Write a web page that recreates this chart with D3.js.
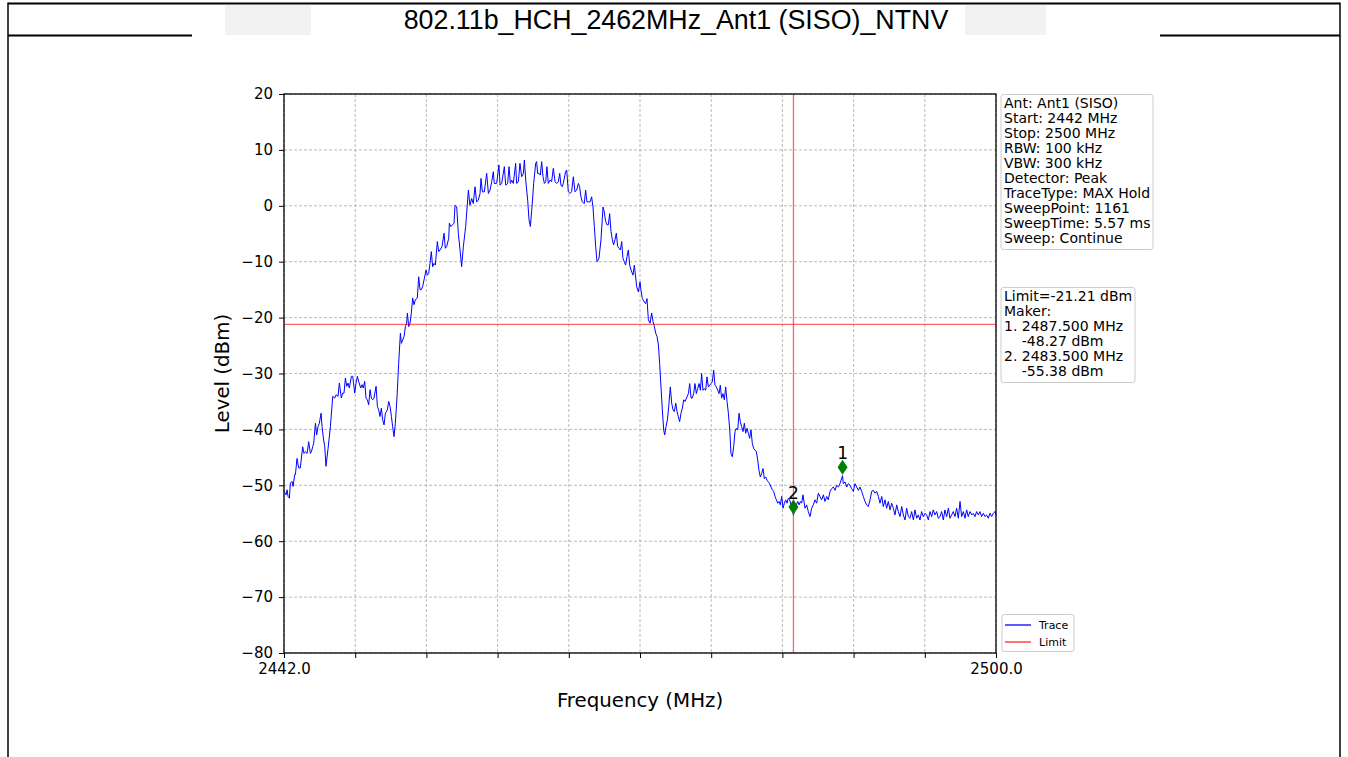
<!DOCTYPE html>
<html>
<head>
<meta charset="utf-8">
<script src="https://cdn.jsdelivr.net/npm/d3@7"></script>
<style>
  html, body { margin: 0; padding: 0; background: #ffffff; }
  svg { display: block; }
  text { font-family: "DejaVu Sans", sans-serif; fill: #000; }
</style>
</head>
<body>
<svg id="chart" width="1348" height="757"></svg>
<script>
// ---- report content ----
const titleText = "802.11b_HCH_2462MHz_Ant1 (SISO)_NTNV";

// ---- axes ----
const freqDomain = [2442, 2500];
const levelDomain = [-80, 20];
const freqTicks = [2442.0, 2447.8, 2453.6, 2459.4, 2465.2, 2471.0, 2476.8, 2482.6, 2488.4, 2494.2, 2500.0];
const freqTickLabels = ["2442.0", "", "", "", "", "", "", "", "", "", "2500.0"];
const levelTicks = [-80, -70, -60, -50, -40, -30, -20, -10, 0, 10, 20];

// ---- limit and markers ----
const limitDbm = -21.21;
const markerIds = ["1", "2"];
const markerFreqs = [2487.5, 2483.5];
const markerLevels = [-48.27, -55.38];

// ---- analyser settings ----
const settingsLines = [
  "Ant: Ant1 (SISO)",
  "Start: 2442 MHz",
  "Stop: 2500 MHz",
  "RBW: 100 kHz",
  "VBW: 300 kHz",
  "Detector: Peak",
  "TraceType: MAX Hold",
  "SweepPoint: 1161",
  "SweepTime: 5.57 ms",
  "Sweep: Continue"
];
const legendNames = ["Trace", "Limit"];

// ---- measured trace: [frequency MHz, level dBm] ----
const traceLowerSide = [
  [2442.00,-51.1],[2442.17,-51.7],[2442.25,-50.8],[2442.33,-52.0],[2442.44,-52.3],[2442.52,-49.6],
  [2442.65,-49.3],[2442.74,-50.2],[2442.87,-48.1],[2442.93,-48.1],[2443.06,-45.2],[2443.20,-46.9],
  [2443.33,-46.9],[2443.52,-43.1],[2443.63,-44.3],[2443.74,-44.0],[2443.88,-44.3],[2444.01,-42.2],
  [2444.15,-44.3],[2444.23,-44.0],[2444.34,-43.1],[2444.42,-42.5],[2444.56,-38.9],[2444.66,-41.0],
  [2444.77,-39.5],[2444.88,-38.9],[2445.02,-37.1],[2445.10,-39.5],[2445.23,-41.9],[2445.32,-43.1],
  [2445.42,-46.6],[2445.59,-43.4],[2445.78,-39.5],[2445.97,-34.1],[2446.13,-34.4],[2446.24,-33.8],
  [2446.40,-34.1],[2446.51,-31.7],[2446.67,-34.4],[2446.78,-33.5],[2446.89,-33.5],[2447.00,-30.8],
  [2447.11,-32.3],[2447.22,-31.7],[2447.32,-32.6],[2447.49,-30.5],[2447.60,-30.5],[2447.76,-33.5],
  [2447.87,-31.7],[2447.98,-30.5],[2448.08,-31.4],[2448.25,-32.6],[2448.36,-32.0],[2448.46,-32.6],
  [2448.57,-31.4],[2448.68,-34.4],[2448.79,-34.7],[2448.90,-35.6],[2449.01,-32.9],[2449.12,-34.4],
  [2449.23,-34.7],[2449.33,-34.4],[2449.50,-32.3],[2449.61,-35.9],[2449.71,-36.5],[2449.82,-37.7],
  [2449.93,-36.2],[2450.04,-38.3],[2450.15,-39.2],[2450.26,-37.1],[2450.42,-36.5],[2450.53,-35.0],
  [2450.64,-35.9],[2450.75,-37.7],[2450.85,-39.5],[2450.96,-41.3],[2451.07,-38.9],[2451.21,-34.1],
  [2451.34,-28.2],[2451.48,-22.8],[2451.56,-24.6],[2451.67,-24.0],[2451.78,-23.4],[2451.89,-21.6],
  [2451.99,-21.0],[2452.05,-19.2],[2452.16,-21.6],[2452.27,-21.0],[2452.37,-19.2],[2452.48,-16.5],
  [2452.59,-17.7],[2452.70,-16.8],[2452.86,-16.5],[2452.97,-12.7],[2453.08,-15.0],[2453.19,-15.0],
  [2453.30,-14.4],[2453.46,-12.7],[2453.57,-11.5],[2453.68,-12.4],[2453.79,-12.1],[2453.89,-10.3],
  [2454.00,-8.2],[2454.11,-10.9],[2454.22,-10.3],[2454.33,-10.6],[2454.49,-6.4],[2454.60,-8.2],
  [2454.71,-7.9],[2454.87,-7.3],[2455.04,-4.9],[2455.14,-7.6],[2455.25,-7.3],[2455.42,-5.8],
  [2455.47,-3.1],[2455.58,-3.7],[2455.74,-3.4],[2455.85,-3.1]
];
const traceInBand = [
  [2455.93,0.1],[2456.07,-0.2],[2456.20,-4.9],[2456.34,-7.9],[2456.47,-10.9],[2456.61,-7.3],
  [2456.80,-3.7],[2457.02,2.8],[2457.15,0.1],[2457.29,1.3],[2457.42,0.4],[2457.56,3.4],
  [2457.69,0.7],[2457.83,1.0],[2457.97,2.2],[2458.05,4.9],[2458.16,2.5],[2458.32,2.5],
  [2458.51,5.8],[2458.65,2.2],[2458.78,2.8],[2458.92,4.3],[2459.05,6.1],[2459.13,4.0],
  [2459.32,4.0],[2459.51,7.3],[2459.60,3.7],[2459.73,4.0],[2459.95,7.0],[2460.06,3.7],
  [2460.22,4.0],[2460.33,7.0],[2460.44,4.0],[2460.55,4.6],[2460.68,4.0],[2460.87,7.6],
  [2460.95,4.0],[2461.09,4.3],[2461.22,7.6],[2461.36,5.2],[2461.50,5.8],[2461.58,8.2],
  [2461.69,4.6],[2461.85,1.0],[2461.96,-2.5],[2462.07,-3.7],[2462.18,-0.8],[2462.34,4.0],
  [2462.50,7.6],[2462.58,7.9],[2462.66,5.8],[2462.77,5.8],[2462.88,5.5],[2462.99,7.9],
  [2463.10,5.2],[2463.21,4.0],[2463.32,4.3],[2463.42,7.0],[2463.53,4.0],[2463.67,4.6],
  [2463.80,4.3],[2463.94,6.7],[2464.08,4.3],[2464.21,4.0],[2464.35,4.3],[2464.46,5.8],
  [2464.56,3.7],[2464.67,3.4],[2464.75,4.0],[2464.94,6.1],[2465.03,6.4],[2465.16,2.5],
  [2465.30,2.2],[2465.43,2.5],[2465.57,5.2],[2465.70,2.5],[2465.84,2.8],[2465.98,4.0],
  [2466.08,3.4],[2466.19,1.6],[2466.30,0.7],[2466.46,0.4],[2466.57,2.8],[2466.68,0.7],
  [2466.79,0.7],[2466.93,0.7],[2467.06,1.6],[2467.17,-0.2],[2467.28,-3.7],[2467.39,-7.3],
  [2467.50,-10.0],[2467.66,-9.4],[2467.82,-6.1],[2467.99,-0.2],[2468.09,-1.1],[2468.20,-2.8],
  [2468.31,-3.4],[2468.42,-3.4],[2468.53,-1.4],[2468.64,-4.6],[2468.75,-6.1],[2468.85,-7.0],
  [2468.96,-6.1],[2469.07,-4.9],[2469.18,-7.3],[2469.29,-7.6],[2469.40,-7.9],[2469.51,-6.4],
  [2469.61,-9.4],[2469.72,-10.0],[2469.83,-10.6],[2469.94,-9.1],[2470.05,-7.9],[2470.16,-10.6],
  [2470.27,-11.5],[2470.43,-12.4],[2470.54,-10.6]
];
const traceUpperSide = [
  [2470.73,-14.5],[2470.87,-15.4],[2471.00,-13.6],[2471.08,-15.1],[2471.19,-16.6],[2471.35,-17.2],
  [2471.46,-17.5],[2471.57,-16.6],[2471.68,-20.4],[2471.82,-21.0],[2471.95,-19.2],[2472.06,-20.7],
  [2472.17,-21.6],[2472.28,-22.8],[2472.39,-23.4],[2472.50,-24.9],[2472.60,-28.2],[2472.71,-32.4],
  [2472.82,-36.5],[2472.93,-40.1],[2473.01,-41.0],[2473.12,-39.5],[2473.23,-38.3],[2473.34,-35.9],
  [2473.47,-32.4],[2473.58,-35.3],[2473.69,-36.5],[2473.80,-36.8],[2473.91,-35.3],[2474.02,-36.8],
  [2474.12,-37.7],[2474.23,-38.6],[2474.34,-37.1],[2474.45,-36.2],[2474.56,-34.7],[2474.67,-35.0],
  [2474.83,-34.2],[2474.94,-33.6],[2475.05,-31.8],[2475.16,-34.4],[2475.26,-34.4],[2475.37,-33.6],
  [2475.48,-31.8],[2475.59,-33.6],[2475.70,-32.7],[2475.81,-31.8],[2475.92,-33.0],[2476.02,-30.0],
  [2476.13,-33.0],[2476.24,-32.7],[2476.35,-33.0],[2476.46,-30.6],[2476.57,-32.4],[2476.68,-32.1],
  [2476.78,-31.8],[2476.89,-31.5],[2477.00,-29.4],[2477.11,-32.1],[2477.22,-32.4],[2477.33,-33.0],
  [2477.44,-33.6],[2477.54,-32.1],[2477.65,-34.4],[2477.76,-33.6],[2477.87,-34.7],[2477.98,-32.4],
  [2478.09,-35.0],[2478.20,-37.1],[2478.31,-40.1],[2478.41,-44.3],[2478.52,-44.9],[2478.63,-43.1],
  [2478.74,-40.4],[2478.85,-39.8],[2478.96,-40.1],[2479.07,-37.1],[2479.17,-38.6],[2479.28,-39.5],
  [2479.39,-40.4],[2479.50,-38.9],[2479.61,-40.7],[2479.72,-39.8],[2479.83,-40.7],[2479.93,-41.6],
  [2480.04,-40.1],[2480.15,-42.5],[2480.26,-43.4],[2480.37,-43.7],[2480.48,-44.0],[2480.59,-45.5],
  [2480.69,-47.3],[2480.80,-48.5],[2480.91,-47.9],[2481.02,-47.0],[2481.13,-48.8],[2481.24,-48.5],
  [2481.35,-49.1],[2481.45,-49.4],[2481.56,-49.7],[2481.67,-50.3],[2481.78,-50.8],[2481.89,-51.1],
  [2482.00,-52.0],[2482.11,-52.6],[2482.22,-53.2],[2482.32,-52.9],[2482.43,-53.5],[2482.54,-52.0],
  [2482.65,-54.1],[2482.76,-53.2],[2482.87,-52.6],[2482.98,-53.2],[2483.08,-52.3],[2483.19,-52.6],
  [2483.30,-53.5],[2483.41,-53.8],[2483.50,-55.38],[2483.63,-53.8],[2483.74,-53.5],[2483.85,-52.9],
  [2483.96,-53.5],[2484.07,-52.9],[2484.17,-53.2],[2484.28,-51.7]
];
const traceNoiseFloor = [
  [2484.44,-54.1],[2484.58,-53.5],[2484.71,-54.7],[2484.85,-55.6],[2484.98,-54.1],[2485.12,-53.5],
  [2485.26,-52.6],[2485.39,-53.2],[2485.53,-51.4],[2485.66,-52.0],[2485.80,-52.6],[2485.94,-51.7],
  [2486.07,-52.9],[2486.21,-52.0],[2486.34,-52.6],[2486.48,-51.1],[2486.61,-50.6],[2486.75,-50.3],
  [2486.89,-50.9],[2487.02,-50.0],[2487.16,-50.3],[2487.29,-49.7],[2487.50,-48.27],[2487.56,-49.7],
  [2487.70,-49.4],[2487.84,-50.3],[2487.97,-49.7],[2488.11,-50.0],[2488.24,-50.6],[2488.38,-51.1],
  [2488.51,-49.7],[2488.65,-50.3],[2488.79,-50.9],[2488.92,-50.3],[2489.06,-51.1],[2489.19,-52.0],
  [2489.33,-52.9],[2489.46,-53.5],[2489.60,-53.8],[2489.74,-52.6],[2489.87,-51.1],[2490.01,-50.9],
  [2490.14,-51.4],[2490.28,-51.1],[2490.42,-52.0],[2490.55,-53.2],[2490.69,-52.0],[2490.82,-53.8],
  [2490.96,-52.6],[2491.09,-54.1],[2491.23,-52.9],[2491.37,-54.4],[2491.50,-53.2],[2491.64,-54.1],
  [2491.77,-55.3],[2491.91,-53.5],[2492.04,-54.7],[2492.18,-55.6],[2492.32,-53.8],[2492.45,-55.3],
  [2492.59,-56.2],[2492.72,-54.1],[2492.86,-55.6],[2492.99,-55.9],[2493.13,-54.7],[2493.27,-56.2],
  [2493.40,-54.4],[2493.54,-55.9],[2493.67,-55.3],[2493.81,-56.2],[2493.94,-54.7],[2494.08,-55.6],
  [2494.22,-55.0],[2494.35,-55.3],[2494.49,-56.2],[2494.62,-54.7],[2494.76,-55.6],[2494.89,-54.4],
  [2495.03,-55.3],[2495.17,-54.7],[2495.30,-55.9],[2495.44,-55.6],[2495.57,-54.7],[2495.71,-56.2],
  [2495.84,-54.4],[2495.98,-55.6],[2496.12,-54.1],[2496.25,-55.9],[2496.39,-55.3],[2496.52,-54.7],
  [2496.66,-55.6],[2496.79,-54.1],[2496.93,-55.9],[2497.07,-52.9],[2497.20,-55.6],[2497.34,-54.7],
  [2497.47,-55.9],[2497.61,-54.4],[2497.74,-55.6],[2497.88,-54.7],[2498.02,-55.3],[2498.15,-55.0],
  [2498.29,-55.6],[2498.42,-54.7],[2498.56,-55.3],[2498.69,-54.7],[2498.83,-55.6],[2498.97,-55.0],
  [2499.10,-55.6],[2499.24,-55.3],[2499.37,-55.9],[2499.51,-55.0],[2499.65,-55.6],[2499.78,-55.0],
  [2499.92,-54.7],[2500.00,-55.3]
];
const trace = traceLowerSide.concat(traceInBand, traceUpperSide, traceNoiseFloor);

// ---- drawing ----
const svg = d3.select("#chart");

// report table frame and title band
const frame = svg.append("g");
frame.append("rect").attr("x", 225).attr("y", 5).attr("width", 86).attr("height", 30).attr("fill", "#f2f2f2");
frame.append("rect").attr("x", 965).attr("y", 5).attr("width", 81).attr("height", 30).attr("fill", "#f2f2f2");
frame.append("line").attr("x1", 8).attr("x2", 1340).attr("y1", 3.5).attr("y2", 3.5).attr("stroke", "#000").attr("stroke-width", 2);
frame.append("line").attr("x1", 8).attr("x2", 192).attr("y1", 35.5).attr("y2", 35.5).attr("stroke", "#000").attr("stroke-width", 2);
frame.append("line").attr("x1", 1160).attr("x2", 1340).attr("y1", 35.5).attr("y2", 35.5).attr("stroke", "#000").attr("stroke-width", 2);
frame.append("line").attr("x1", 8).attr("x2", 8).attr("y1", 2.5).attr("y2", 757).attr("stroke", "#000").attr("stroke-width", 1.5);
frame.append("line").attr("x1", 1340).attr("x2", 1340).attr("y1", 2.5).attr("y2", 757).attr("stroke", "#000").attr("stroke-width", 1.5);
frame.append("text")
  .attr("x", 676).attr("y", 29)
  .attr("text-anchor", "middle")
  .style("font-family", "'Liberation Sans', Arial, sans-serif")
  .style("font-size", "26.8px")
  .text(titleText);

// plot area
const plot = { left: 284, right: 996, top: 94, bottom: 653 };
const x = d3.scaleLinear().domain(freqDomain).range([plot.left, plot.right]);
const y = d3.scaleLinear().domain(levelDomain).range([plot.bottom, plot.top]);

// grid
const grid = svg.append("g").attr("stroke", "#a8a8a8").attr("stroke-width", 0.8).attr("stroke-dasharray", "3,2");
grid.selectAll("line.v").data(freqTicks).join("line")
  .attr("x1", d => x(d)).attr("x2", d => x(d)).attr("y1", plot.top).attr("y2", plot.bottom);
grid.selectAll("line.h").data(levelTicks).join("line")
  .attr("y1", d => y(d)).attr("y2", d => y(d)).attr("x1", plot.left).attr("x2", plot.right);

// trace
const line = d3.line().x(d => x(d[0])).y(d => y(d[1]));
svg.append("path").datum(trace)
  .attr("d", line)
  .attr("fill", "none").attr("stroke", "#0000ff").attr("stroke-width", 1)
  .attr("stroke-linejoin", "round");

// limit line and marker-2 frequency line
svg.append("line")
  .attr("x1", plot.left).attr("x2", plot.right).attr("y1", y(limitDbm)).attr("y2", y(limitDbm))
  .attr("stroke", "#ff0000").attr("stroke-opacity", 0.6).attr("stroke-width", 1.3);
svg.append("line")
  .attr("x1", x(markerFreqs[1])).attr("x2", x(markerFreqs[1])).attr("y1", plot.top).attr("y2", plot.bottom)
  .attr("stroke", "#ff0000").attr("stroke-opacity", 0.6).attr("stroke-width", 1.3);

// markers (diamond drawn just above the measured point)
const markerLift = 8.4;
const mk = svg.append("g").selectAll("g").data(markerIds.map((id, i) => ({ id, f: markerFreqs[i], v: markerLevels[i] })))
  .join("g").attr("transform", d => `translate(${x(d.f)},${y(d.v) - markerLift})`);
mk.append("path").attr("d", "M0,-7.5L5,0L0,7.5L-5,0Z").attr("fill", "#008000");
mk.append("text").attr("y", -8).attr("text-anchor", "middle").style("font-size", "17px").text(d => d.id);

// axes
const fmtLevel = d => (d < 0 ? "\u2212" + Math.abs(d) : String(d));
const yAxis = svg.append("g").attr("transform", `translate(${plot.left},0)`)
  .call(d3.axisLeft(y).tickValues(levelTicks).tickSize(5).tickPadding(6).tickFormat(fmtLevel));
const xAxis = svg.append("g").attr("transform", `translate(0,${plot.bottom})`)
  .call(d3.axisBottom(x).tickValues(freqTicks).tickSize(5).tickPadding(5).tickFormat((d, i) => freqTickLabels[i]));
[yAxis, xAxis].forEach(a => {
  a.select(".domain").remove();
  a.selectAll(".tick line").attr("stroke", "#000").attr("stroke-width", 1);
  a.selectAll(".tick text").style("font-family", "'DejaVu Sans', sans-serif").style("font-size", "15px").attr("fill", "#000");
});

// frame
svg.append("rect")
  .attr("x", plot.left).attr("y", plot.top).attr("width", plot.right - plot.left).attr("height", plot.bottom - plot.top)
  .attr("fill", "none").attr("stroke", "#000").attr("stroke-width", 1.3);

// axis titles
svg.append("text").attr("x", (plot.left + plot.right) / 2).attr("y", 707)
  .attr("text-anchor", "middle").style("font-size", "19.8px").text("Frequency (MHz)");
svg.append("text").attr("transform", `translate(229,${(plot.top + plot.bottom) / 2}) rotate(-90)`)
  .attr("text-anchor", "middle").style("font-size", "19.8px").text("Level (dBm)");

// info boxes
function infoBox(lines, bx, by, bw, bh) {
  const g = svg.append("g");
  g.append("rect").attr("x", bx).attr("y", by).attr("width", bw).attr("height", bh)
    .attr("rx", 2.5).attr("fill", "#fff").attr("fill-opacity", 0.8).attr("stroke", "#cccccc").attr("stroke-width", 1);
  g.selectAll("text").data(lines).join("text")
    .attr("x", bx + 3).attr("y", (d, i) => by + 13 + i * 15.1)
    .style("font-size", "14px").style("white-space", "pre")
    .text(d => d);
}
infoBox(settingsLines, 1001, 94.5, 152, 155);

const markerLines = [`Limit=${limitDbm.toFixed(2)} dBm`, "Maker:"];
markerIds.forEach((id, i) => {
  markerLines.push(`${id}. ${markerFreqs[i].toFixed(3)} MHz`);
  markerLines.push(`    ${markerLevels[i].toFixed(2)} dBm`);
});
infoBox(markerLines, 1001, 287.5, 134, 95);

// legend
const lg = svg.append("g");
lg.append("rect").attr("x", 1002).attr("y", 614.5).attr("width", 72).attr("height", 37)
  .attr("rx", 2.5).attr("fill", "#fff").attr("stroke", "#cccccc").attr("stroke-width", 1);
const legendColors = ["#0000ff", "#ff0000"];
legendNames.forEach((name, i) => {
  const ly = 625 + i * 17;
  lg.append("line").attr("x1", 1005).attr("x2", 1031).attr("y1", ly).attr("y2", ly)
    .attr("stroke", legendColors[i]).attr("stroke-width", 1.3).attr("stroke-opacity", i ? 0.85 : 1);
  lg.append("text").attr("x", 1039).attr("y", ly + 4).style("font-size", "11px").text(name);
});
</script>
</body>
</html>
